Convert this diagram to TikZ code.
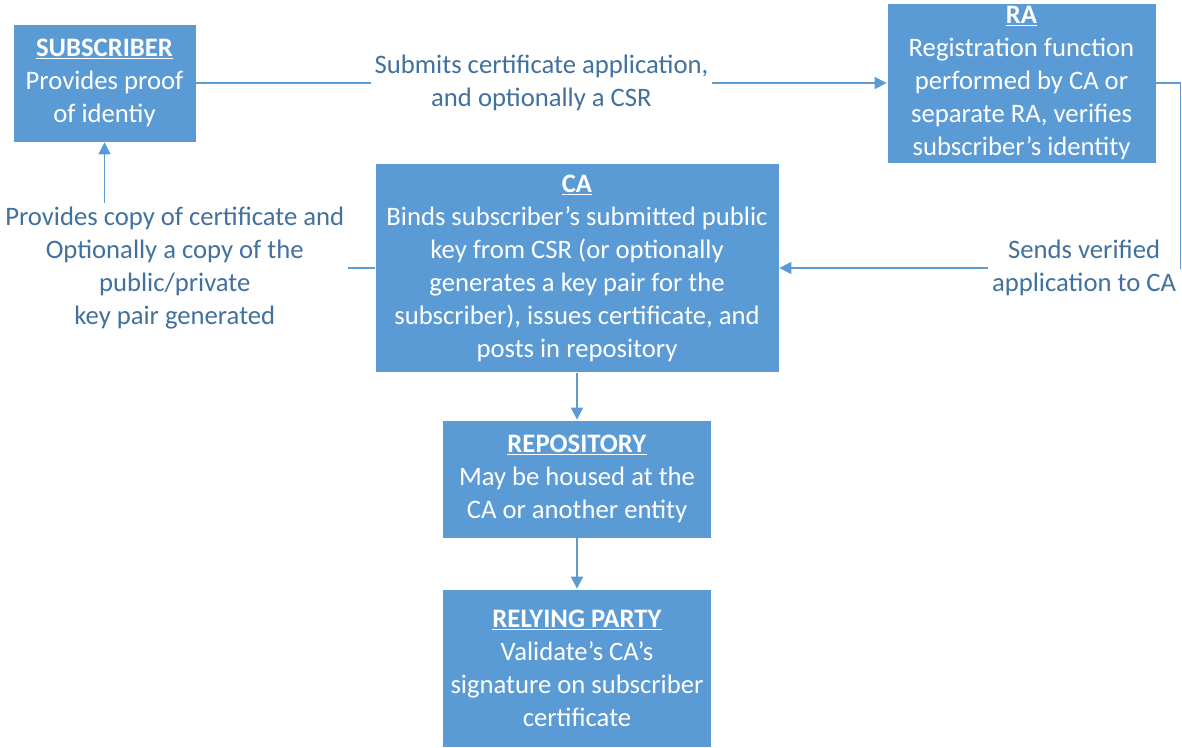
\documentclass[tikz,border=0pt]{standalone}
\usepackage{fontspec}
\setmainfont{Carlito}
\usetikzlibrary{arrows.meta}
\definecolor{boxblue}{HTML}{5B9BD5}
\definecolor{lblblue}{HTML}{41719C}

\begin{document}
\begin{tikzpicture}[x=0.75pt,y=-0.75pt]
   \tikzstyle{box}=[fill=boxblue, draw=white, line width=0.5pt, text=white, align=center, inner sep=0pt, font=\fontsize{20}{24.75}\selectfont]
   \tikzstyle{lbl}=[fill=white, text=lblblue, align=center, inner sep=3pt, font=\fontsize{20}{24.75}\selectfont]
   \tikzstyle{conn}=[draw=boxblue, line width=1.1pt, -{Triangle[length=9pt,width=9pt]}]

\useasboundingbox (0,0) rectangle (1182,747);

% boxes
\node[box, minimum width=137.25pt, minimum height=88.5pt] (sub) at (104.5,83)
    {\underline{\textbf{SUBSCRIBER}}\\Provides proof\\of identiy};
\node[box, minimum width=201.75pt, minimum height=120pt] (ra) at (1021.5,83)
    {\underline{\textbf{RA}}\\Registration function\\performed by CA or\\separate RA, verifies\\subscriber’s identity};
\node[box, minimum width=303pt, minimum height=156.75pt] (ca) at (577,268)
    {\underline{\textbf{CA}}\\Binds subscriber’s submitted public\\key from CSR (or optionally\\generates a key pair for the\\subscriber), issues certificate, and\\posts in repository};
\node[box, minimum width=201.75pt, minimum height=88.5pt] (repo) at (577,479)
    {\underline{\textbf{REPOSITORY}}\\May be housed at the\\CA or another entity};
\node[box, minimum width=201.75pt, minimum height=118.5pt] (rp) at (577,668)
    {\underline{\textbf{RELYING PARTY}}\\Validate’s CA’s\\signature on subscriber\\certificate};

% connectors
\draw[conn] (sub.east) -- node[lbl] (submitlbl) {Submits certificate application,\\and optionally a CSR} (ra.west);
\draw[conn] (ra.east) -- ++(24,0) |- node[lbl, pos=0.62] (sendlbl) {Sends verified\\application to CA} (ca.east);
\draw[conn] (ca.west) -| node[lbl, pos=0.37] (copylbl) {Provides copy of certificate and\\Optionally a copy of the\\public/private\\key pair generated} (sub.south);
\draw[conn] (ca.south) -- (repo.north);
\draw[conn] (repo.south) -- (rp.north);

\end{tikzpicture}
\end{document}
